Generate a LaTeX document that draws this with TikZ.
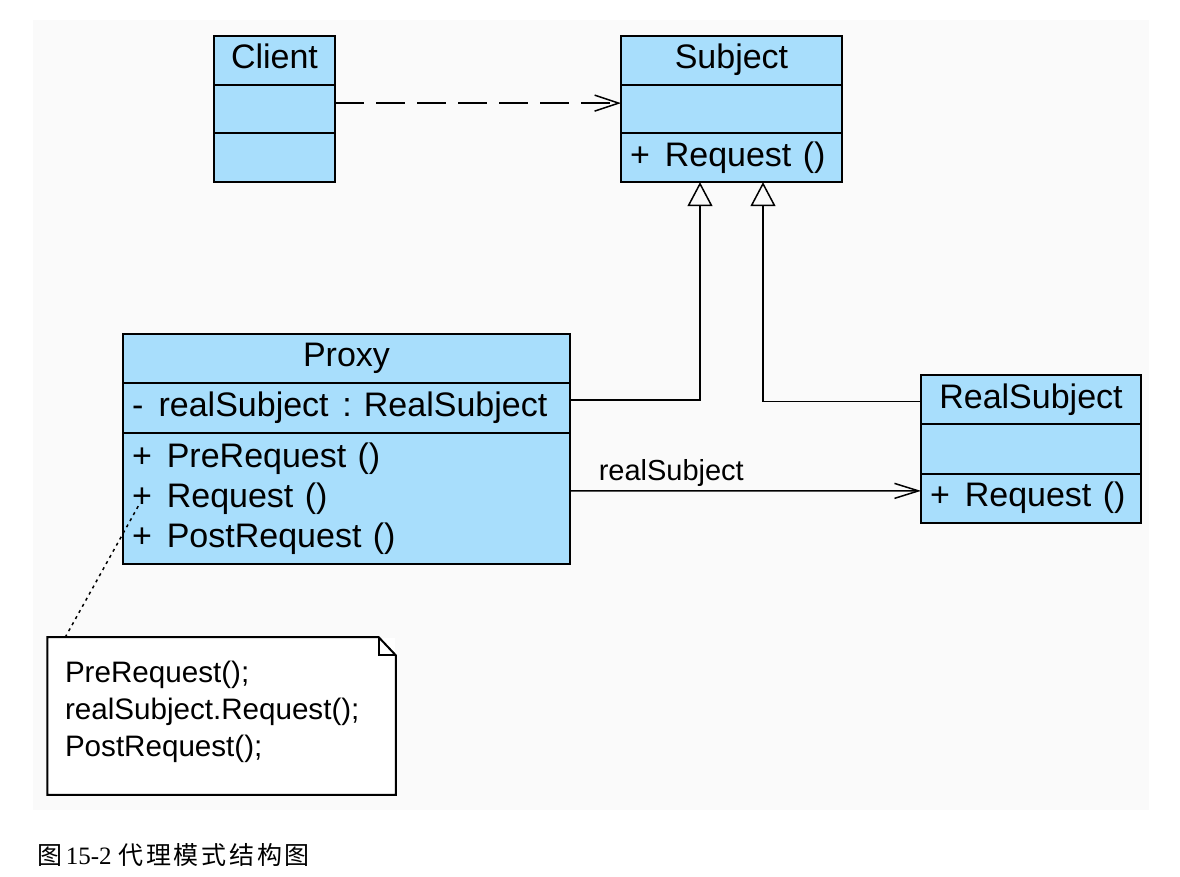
\documentclass[tikz,border=0pt]{standalone}
\usepackage{fontspec}
\setmainfont{Liberation Sans}
\newfontfamily\cjk[LetterSpace=11]{Noto Sans CJK SC}
\newfontfamily\capserif{Liberation Serif}
\usepackage{xcolor}
\usetikzlibrary{positioning,arrows.meta}
\definecolor{roseblue}{HTML}{A8DEFC}
\definecolor{paper}{HTML}{FAFAFA}
\newcommand{\umlop}[1]{+\hspace{0.44em}#1}
\newcommand{\umlattr}[1]{-\hspace{0.45em}#1}

\begin{document}
\begin{tikzpicture}[x=0.5pt, y=-0.5pt, line width=0.75pt,
    cls/.style={draw, fill=roseblue, line width=1pt, outer sep=0pt, inner sep=0pt,
        minimum width=#1, minimum height=24.33pt, font=\fontsize{17}{20}\selectfont},
    onel/.style={text height=12.1pt, text depth=3.7pt},
    ops/.style={align=left, inner xsep=4.5pt},
    notebox/.style={fill=white, minimum width=173.5pt, minimum height=78pt, inner xsep=8.5pt,
        inner ysep=0pt, text width=156.5pt, align=left,
        font=\fontsize{14.8}{18.5}\selectfont},
    noteline/.style={draw, line width=1pt},
    notelink/.style={line width=0.75pt, dash pattern=on 1.5pt off 2pt},
    inherit/.style={-{Triangle[open, length=12pt, width=12.5pt]}},
    depend/.style={dash pattern=on 14.5pt off 6pt, -{Straight Barb[length=12pt, width=8pt]}},
    assoc/.style={-{Straight Barb[length=12pt, width=7.5pt]}}]
    \useasboundingbox (0,0) rectangle (1180,877);
    % 底色
    \fill[paper] (33,20) rectangle (1149,810);

    % Client
    \node[cls=60.5pt, onel] (client) at (274.5,60.5) {Client};
    \node[cls=60.5pt, below=0pt of client] (client-attr) {};
    \node[cls=60.5pt, below=0pt of client-attr] (client-ops) {};

    % Subject
    \node[cls=110.5pt, onel] (subject) at (731.5,60.5) {Subject};
    \node[cls=110.5pt, below=0pt of subject] (subject-attr) {};
    \node[cls=110.5pt, onel, ops, text width=101.5pt, below=0pt of subject-attr] (subject-ops) {\umlop{Request ()}};

    % Proxy
    \node[cls=223.5pt, onel, minimum height=24.5pt] (proxy) at (346.5,358.5) {Proxy};
    \node[cls=223.5pt, onel, ops, text width=214.5pt, minimum height=25pt, below=0pt of proxy] (proxy-attr)
        {\umlattr{realSubject\hspace{0.4em}:\hspace{0.36em}RealSubject}};
    \node[cls=223.5pt, ops, text width=214.5pt, minimum height=65.5pt, below=0pt of proxy-attr] (proxy-ops)
        {\umlop{PreRequest ()}\\ \umlop{Request ()}\\ \umlop{PostRequest ()}};

    % RealSubject
    \node[cls=110pt, onel, minimum height=24.67pt] (realsubj) at (1031,399.7) {RealSubject};
    \node[cls=110pt, minimum height=24.67pt, below=0pt of realsubj] (realsubj-attr) {};
    \node[cls=110pt, onel, ops, text width=101pt, minimum height=24.67pt, below=0pt of realsubj-attr] (realsubj-ops) {\umlop{Request ()}};

    % 注释
    \node[notebox, text depth=44pt] (note) at (221.5,716) {PreRequest();\\realSubject.Request();\\PostRequest();};
    \draw[noteline] ([xshift=-8.5pt]note.north east) -- (note.north west) -- (note.south west)
        -- (note.south east) -- ([yshift=-9pt]note.north east) -- cycle;
    \draw[noteline] ([xshift=-8.5pt]note.north east) |- ([yshift=-9pt]note.north east);
    \coordinate (pxreq) at ([xshift=8.5pt,yshift=-2.25pt]proxy-ops.west);
    \draw[notelink] ([xshift=9pt]note.north west) -- (pxreq);

    % 连线
    \draw[depend] ([yshift=3pt]client-attr.east) -- ([yshift=3pt]subject-attr.west);
    \draw[inherit] ([yshift=4pt]proxy-attr.east) -| ([xshift=-15.75pt]subject-ops.south);
    \draw[inherit] ([yshift=-1pt]realsubj.west) -| ([xshift=15.75pt]subject-ops.south);
    \draw[assoc] ([yshift=3.75pt]proxy-ops.east) -- ([yshift=3.75pt]realsubj-ops.west)
        node[pos=0, anchor=base west, xshift=14pt, yshift=5pt, inner sep=0pt, font=\fontsize{14.5}{16}\selectfont] (assoc-lbl) {realSubject};

    % 图题
    \node[anchor=west, inner sep=0pt, font=\fontsize{12.5}{14}\selectfont] (caption) at (37,855)
        {{\cjk 图}\hspace{0.12em}{\capserif 15-2} {\cjk 代理模式结构图}};
\end{tikzpicture}
\end{document}
